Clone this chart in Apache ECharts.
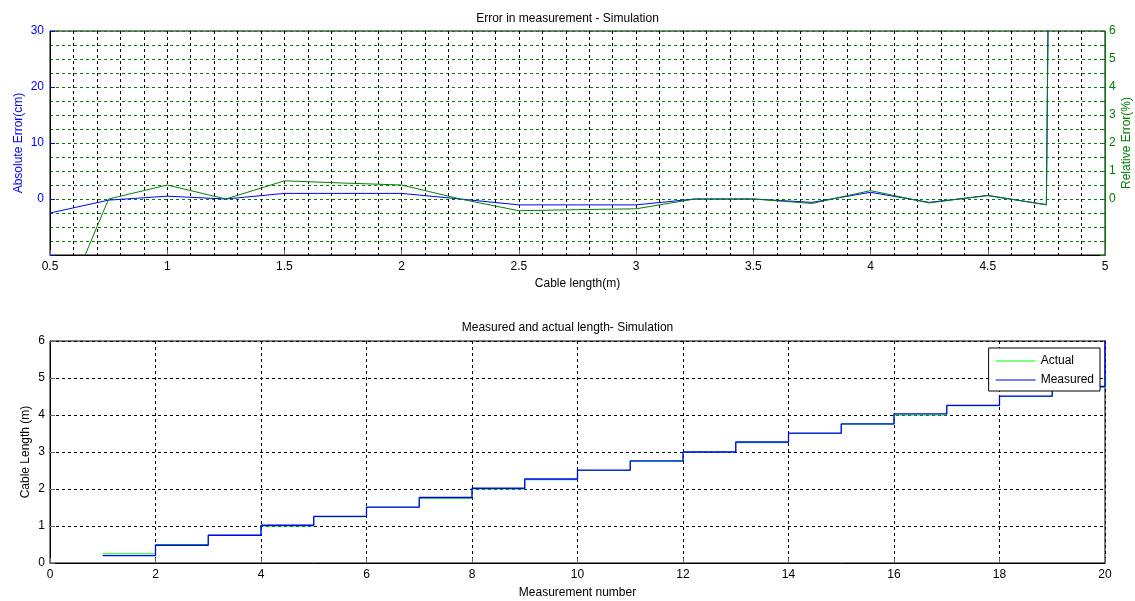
<!DOCTYPE html>
<html>
<head>
<meta charset="utf-8">
<script src="https://cdn.jsdelivr.net/npm/echarts@6/dist/echarts.min.js"></script>
<style>
  html, body { margin: 0; padding: 0; background: #fff; }
  #main { width: 1135px; height: 601px; }
</style>
</head>
<body>
<div id="main"></div>
<script>
// top plot: error vs cable length
var cableLength = [0.5, 0.75, 1, 1.25, 1.5, 1.75, 2, 2.25, 2.5, 2.75, 3, 3.25, 3.5, 3.75, 4, 4.25, 4.5, 4.75, 4.76];
var absError = [-2.5, -0.2, 0.5, 0, 1, 1, 1, 0, -1.05, -1.05, -1.05, 0, 0, -0.6, 1.2, -0.6, 0.6, -1.0, 45];
var relError = [-5, 0, 0.5, 0, 0.65, 0.57, 0.5, 0, -0.42, -0.38, -0.35, 0, 0, -0.16, 0.3, -0.14, 0.13, -0.21, 9];

// bottom plot: measured vs actual
var measNumber = [1, 2, 3, 4, 5, 6, 7, 8, 9, 10, 11, 12, 13, 14, 15, 16, 17, 18, 19, 20];
var actualLen = [0.25, 0.5, 0.75, 1, 1.25, 1.5, 1.75, 2, 2.25, 2.5, 2.75, 3, 3.25, 3.5, 3.75, 4, 4.25, 4.5, 4.75, 5];
var measuredLen = [0.2, 0.48, 0.75, 1.02, 1.26, 1.51, 1.77, 2.02, 2.27, 2.51, 2.76, 3.0, 3.27, 3.51, 3.76, 4.03, 4.26, 4.51, 4.77, 7];

function pairs(xs, ys) {
  return xs.map(function (x, i) { return [x, ys[i]]; });
}

var FONT = '"Liberation Sans", Arial, sans-serif';
var BLUE = '#0000ff';
var GREEN = '#008000';
var dash = [3, 3];

var chartDom = document.getElementById('main');
var myChart = echarts.init(chartDom);
var option;

option = {
  animation: false,
  backgroundColor: '#fff',
  textStyle: { fontFamily: FONT },
  title: [
    { text: 'Error in measurement - Simulation', left: 'center', top: 8,
      textStyle: { fontSize: 12, fontWeight: 'normal', color: '#000', fontFamily: FONT } },
    { text: 'Measured and actual length- Simulation', left: 'center', top: 317,
      textStyle: { fontSize: 12, fontWeight: 'normal', color: '#000', fontFamily: FONT } }
  ],
  legend: {
    data: ['Actual', 'Measured'],
    orient: 'vertical',
    right: 35,
    top: 348,
    icon: 'rect',
    itemWidth: 40,
    itemHeight: 1,
    itemGap: 7,
    padding: [7, 6, 5, 7],
    backgroundColor: '#fff',
    borderColor: '#000',
    borderWidth: 1,
    borderRadius: 0,
    textStyle: { fontSize: 12, color: '#000', fontFamily: FONT }
  },
  grid: [
    { left: 50, right: 30, top: 31, height: 224, outerBoundsMode: 'none', containLabel: false,
      show: true, borderColor: '#000', borderWidth: 1, backgroundColor: '#fff' },
    { left: 50, right: 30, top: 341, height: 222, outerBoundsMode: 'none', containLabel: false,
      show: true, borderColor: '#000', borderWidth: 1, backgroundColor: '#fff' }
  ],
  xAxis: [
    {
      type: 'value', gridIndex: 0, min: 0.5, max: 5, interval: 0.5,
      name: 'Cable length(m)', nameLocation: 'middle', nameGap: 23,
      nameTextStyle: { fontSize: 12, color: '#000' },
      axisLine: { onZero: false, lineStyle: { color: '#000' } },
      axisTick: { inside: true, length: 5, lineStyle: { color: '#666' } },
      axisLabel: { fontSize: 12, color: '#000', margin: 6 },
      splitLine: { show: true, lineStyle: { color: '#000', type: dash } },
      minorTick: { show: false, splitNumber: 5 },
      minorSplitLine: { show: true, lineStyle: { color: '#000', type: dash } }
    },
    {
      type: 'value', gridIndex: 1, min: 0, max: 20, interval: 2,
      name: 'Measurement number', nameLocation: 'middle', nameGap: 24,
      nameTextStyle: { fontSize: 12, color: '#000' },
      axisLine: { onZero: false, lineStyle: { color: '#000' } },
      axisTick: { inside: true, length: 5, lineStyle: { color: '#666' } },
      axisLabel: { fontSize: 12, color: '#000', margin: 6 },
      splitLine: { show: true, lineStyle: { color: '#000', type: dash } }
    }
  ],
  yAxis: [
    {
      type: 'value', gridIndex: 0, min: -10, max: 30, interval: 10,
      name: 'Absolute Error(cm)', nameLocation: 'middle', nameGap: 25, nameMoveOverlap: false,
      nameTextStyle: { fontSize: 12, color: BLUE },
      axisLine: { show: true, onZero: false, lineStyle: { color: '#000' } },
      axisTick: { show: true, inside: true, length: 5, lineStyle: { color: BLUE } },
      axisLabel: { fontSize: 12, color: BLUE, margin: 6,
        formatter: function (v) { return v < 0 ? '' : String(v); } },
      splitLine: { show: false }
    },
    {
      type: 'value', gridIndex: 0, min: -2, max: 6, interval: 1, position: 'right',
      name: 'Relative Error(%)', nameLocation: 'middle', nameGap: 16, nameMoveOverlap: false,
      nameTextStyle: { fontSize: 12, color: GREEN },
      axisLine: { show: true, onZero: false, lineStyle: { color: GREEN } },
      axisTick: { show: true, inside: true, length: 5, lineStyle: { color: GREEN } },
      axisLabel: { fontSize: 12, color: GREEN, margin: 4,
        formatter: function (v) { return v < 0 ? '' : String(v); } },
      splitLine: { show: true, lineStyle: { color: GREEN, type: dash } },
      minorTick: { show: true, splitNumber: 2, length: 5, lineStyle: { color: GREEN } },
      minorSplitLine: { show: true, lineStyle: { color: GREEN, type: dash } }
    },
    {
      type: 'value', gridIndex: 1, min: 0, max: 6, interval: 1,
      name: 'Cable Length (m)', nameLocation: 'middle', nameGap: 18, nameMoveOverlap: false,
      nameTextStyle: { fontSize: 12, color: '#000' },
      axisLine: { show: true, onZero: false, lineStyle: { color: '#000' } },
      axisTick: { show: true, inside: true, length: 5, lineStyle: { color: '#666' } },
      axisLabel: { fontSize: 12, color: '#000', margin: 5 },
      splitLine: { show: true, lineStyle: { color: '#000', type: dash } }
    }
  ],
  series: [
    {
      name: 'Absolute Error', type: 'line', xAxisIndex: 0, yAxisIndex: 0,
      data: pairs(cableLength, absError), symbol: 'none',
      lineStyle: { color: BLUE, width: 1 }, itemStyle: { color: BLUE }
    },
    {
      name: 'Relative Error', type: 'line', xAxisIndex: 0, yAxisIndex: 1,
      data: pairs(cableLength, relError), symbol: 'none',
      lineStyle: { color: GREEN, width: 1 }, itemStyle: { color: GREEN }
    },
    {
      name: 'Actual', type: 'line', xAxisIndex: 1, yAxisIndex: 2, step: 'end',
      data: pairs(measNumber, actualLen), symbol: 'none',
      lineStyle: { color: '#00ff00', width: 1 }, itemStyle: { color: '#00ff00' }
    },
    {
      name: 'Measured', type: 'line', xAxisIndex: 1, yAxisIndex: 2, step: 'end',
      data: pairs(measNumber, measuredLen), symbol: 'none',
      lineStyle: { color: BLUE, width: 1.3 }, itemStyle: { color: BLUE }
    }
  ]
};

option && myChart.setOption(option);
</script>
</body>
</html>
